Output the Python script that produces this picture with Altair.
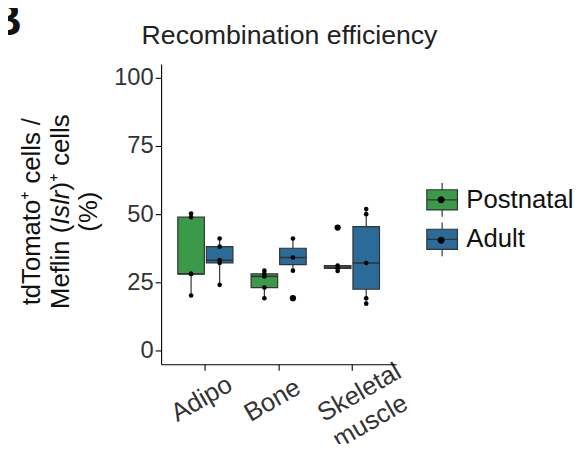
import altair as alt
import pandas as pd

# ---------------- data ----------------
categories = ["Adipo", "Bone", "Skeletal muscle"]
groups = ["Postnatal", "Adult"]
group_colors = ["#3a9a4a", "#2b6b99"]

box_tissue = ["Adipo", "Adipo", "Bone", "Bone", "Skeletal muscle", "Skeletal muscle"]
box_group = ["Postnatal", "Adult", "Postnatal", "Adult", "Postnatal", "Adult"]
whisker_lo = [20.2, 24.1, 19.2, 29.3, 29.2, 17.2]
box_q1 = [28.1, 32.1, 23.1, 31.5, 30.1, 22.5]
box_median = [28.1, 33.1, 27.2, 34.1, 30.6, 32.1]
box_q3 = [48.9, 38.1, 28.1, 37.5, 31.2, 45.4]
whisker_hi = [50.2, 41.1, 29.3, 41.1, 31.2, 51.9]

pt_tissue = (["Adipo"] * 10 + ["Bone"] * 9 + ["Skeletal muscle"] * 9)
pt_group = (["Postnatal"] * 5 + ["Adult"] * 5 + ["Postnatal"] * 5 + ["Adult"] * 4
            + ["Postnatal"] * 4 + ["Adult"] * 5)
pt_value = [20.2, 28.1, 28.1, 48.9, 50.2,
            24.1, 32.1, 33.2, 38.1, 41.1,
            19.2, 23.1, 27.2, 28.1, 29.3,
            19.2, 29.3, 34.1, 41.1,
            29.2, 30.2, 31.2, 45.1,
            17.2, 19.2, 32.1, 50.0, 51.9]

out_tissue = ["Bone", "Skeletal muscle"]
out_group = ["Adult", "Postnatal"]
out_value = [19.2, 45.1]

y_ticks = [0, 25, 50, 75, 100]
title_text = "Recombination efficiency"
panel_letter = "B"
ytitle_line1 = "tdTomato\u207a cells /"
ytitle_line2 = ["Meflin (", "Islr", ")\u207a cells"]
ytitle_line3 = "(%)"

# ---------------- tables ----------------
box_df = pd.DataFrame({
    "tissue": box_tissue, "group": box_group,
    "lo": whisker_lo, "q1": box_q1, "med": box_median, "q3": box_q3, "hi": whisker_hi,
})
# second copy of the group names (trailing space) so the dot legend stays a separate legend
dot_groups = [g + " " for g in groups]
box_df["group2"] = [g + " " for g in box_group]
pt_df = pd.DataFrame({"tissue": pt_tissue, "group": pt_group, "value": pt_value})
out_df = pd.DataFrame({"tissue": out_tissue, "group": out_group, "value": out_value})

FONT = "Liberation Sans"
INK = "#333333"
W, H = 238, 304

x_enc = alt.X(
    "tissue:N",
    scale=alt.Scale(domain=categories, paddingInner=0.248, paddingOuter=0.228),
    axis=alt.Axis(
        title=None, labelAngle=-30, labelAlign="left", labelBaseline="top",
        labelFontSize=26, labelColor=INK, labelFont=FONT, labelPadding=34, labelOffset=-39,
        labelExpr="split(datum.label, ' ')", labelLineHeight=31,
        tickSize=6, tickColor="#000000", tickWidth=1.1,
        domainColor="#000000", domainWidth=1.1, grid=False, labelOverlap=False,
        labelFlush=False, labelBound=False,
    ),
)
xo_enc = alt.XOffset("group:N", scale=alt.Scale(domain=groups, paddingInner=0.07, paddingOuter=0))
y_scale = alt.Scale(domain=[-5, 105], nice=False, zero=False)
y_axis = alt.Axis(
    title=None, values=y_ticks, labelFontSize=24, labelColor=INK, labelFont=FONT,
    labelPadding=2, tickSize=6, tickColor="#000000", tickWidth=1.1,
    domainColor="#000000", domainWidth=1.1, grid=False,
)

BOX_PATH = "M-1,-0.66H1V0.66H-1Z M0,-1.1V-0.66 M0,0.66V1.1 M-1,0H1"
DOT_PATH = "M-1,-1.1M1,1.1M0.23,0A0.23,0.23,0,1,1,-0.23,0A0.23,0.23,0,1,1,0.23,0Z"
LEG_X, LEG_Y = 268, 121

whiskers = alt.Chart(box_df).mark_rule(color=INK, strokeWidth=1.2).encode(
    x=x_enc, xOffset=xo_enc,
    y=alt.Y("lo:Q", scale=y_scale, axis=y_axis), y2="hi:Q",
)
boxes = alt.Chart(box_df).mark_bar(stroke=INK, strokeWidth=1.2).encode(
    x=x_enc, xOffset=xo_enc,
    y=alt.Y("q1:Q", scale=y_scale, axis=y_axis), y2="q3:Q",
    color=alt.Color(
        "group:N", scale=alt.Scale(domain=groups, range=group_colors),
        legend=alt.Legend(
            title=None, orient="none", legendX=LEG_X, legendY=LEG_Y, padding=0, offset=0,
            symbolType=BOX_PATH, symbolSize=961, symbolStrokeColor=INK, symbolStrokeWidth=1.2,
            symbolOpacity=1, labelFontSize=26, labelFont=FONT, labelColor="#111111",
            labelOffset=8, rowPadding=1, zindex=0,
        ),
    ),
)
medians = alt.Chart(box_df).mark_tick(color=INK, thickness=1.6, size=27, opacity=1).encode(
    x=x_enc, xOffset=xo_enc, y=alt.Y("med:Q", scale=y_scale, axis=y_axis),
)
points = alt.Chart(pt_df).mark_circle(color="black", opacity=1, size=22).encode(
    x=x_enc, xOffset=xo_enc, y=alt.Y("value:Q", scale=y_scale, axis=y_axis),
)
outliers = alt.Chart(out_df).mark_circle(color="black", opacity=1, size=40).encode(
    x=x_enc, xOffset=xo_enc, y=alt.Y("value:Q", scale=y_scale, axis=y_axis),
)
legend_dots = alt.Chart(box_df).mark_point(filled=True, opacity=1, color="black").encode(
    shape=alt.Shape(
        "group2:N", scale=alt.Scale(domain=dot_groups, range=[DOT_PATH, DOT_PATH]),
        legend=alt.Legend(
            title=None, orient="none", legendX=LEG_X, legendY=LEG_Y + 1, padding=0, offset=0,
            symbolSize=961, symbolFillColor="black", symbolStrokeColor="black",
            symbolStrokeWidth=0, symbolOpacity=1, labelExpr="' '",
            labelFontSize=26, labelFont=FONT, labelOpacity=0, labelOffset=8,
            rowPadding=6, zindex=1,
        ),
    ),
).transform_filter("false")


def label(text, x, y, size=26, angle=0, align="center", style="normal", weight="normal",
          color="#111111"):
    return alt.Chart(pd.DataFrame({"t": [text]})).mark_text(
        font=FONT, fontSize=size, angle=angle, align=align, baseline="alphabetic",
        fontStyle=style, fontWeight=weight, color=color,
    ).encode(text="t:N", x=alt.value(x), y=alt.value(y))


texts = [
    label(title_text, 130, -20, size=27, color="#222222"),
    label(panel_letter, -141, -29, size=46, align="right", weight="bold", color="#111111"),
    label(ytitle_line1, -123, 149.5, angle=270),
    label(ytitle_line2[0], -93, 248, angle=270, align="left"),
    label(ytitle_line2[1], -93, 162.8, angle=270, align="left", style="italic"),
    label(ytitle_line2[2], -93, 128.1, angle=270, align="left"),
    label(ytitle_line3, -65, 149.5, angle=270),
]

chart = alt.layer(whiskers, boxes, medians, points, outliers, legend_dots, *texts).properties(
    width=W, height=H,
    autosize=alt.AutoSizeParams(type="none"),
    padding={"left": 155, "top": 54, "right": 180, "bottom": 78},
    background="white",
).configure_view(stroke=None)

chart.save("out.html", embed_options={"renderer": "svg", "actions": False})
